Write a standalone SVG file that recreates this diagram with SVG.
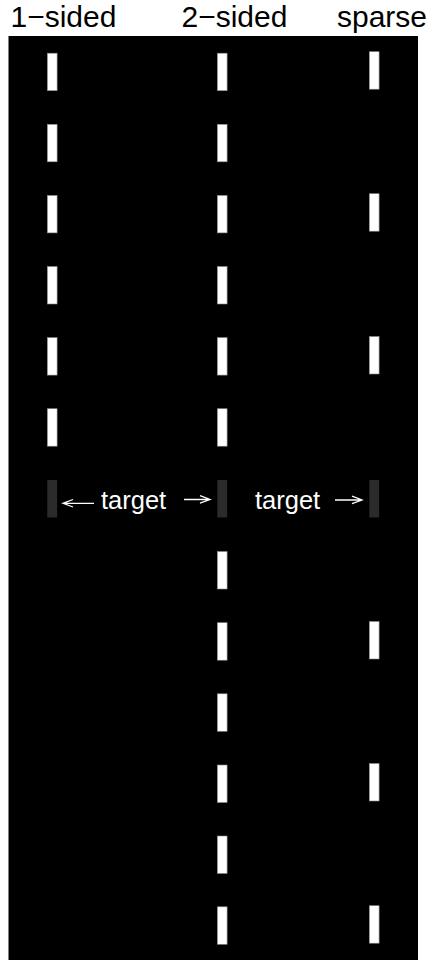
<svg xmlns="http://www.w3.org/2000/svg" width="429" height="962" viewBox="0 0 429 962">
<style>
.hdr{font-family:"Liberation Sans",Arial,sans-serif;font-size:30px;fill:#000}
.lbl{font-family:"Liberation Sans",Arial,sans-serif;font-size:25.5px;fill:#fff}
.bar{fill:#fff;stroke:#888;stroke-width:0.6}
.tgt{fill:#2b2b2b}
.arr{stroke:#fff;stroke-width:1.3;fill:none}
</style>
<rect width="429" height="962" fill="#fff"/>
<rect id="field" x="8.5" y="36" width="409.5" height="924" fill="#000"/>
<g id="headers">
<text class="hdr" x="10.5" y="27">1−sided</text>
<text class="hdr" x="181.5" y="27">2−sided</text>
<text class="hdr" x="337" y="27">sparse</text>
</g>
<g id="col1">
<rect class="bar" x="47.3" y="53.2" width="9.8" height="37.5"/>
<rect class="bar" x="47.3" y="124.3" width="9.8" height="37.5"/>
<rect class="bar" x="47.3" y="195.4" width="9.8" height="37.5"/>
<rect class="bar" x="47.3" y="266.5" width="9.8" height="37.5"/>
<rect class="bar" x="47.3" y="337.6" width="9.8" height="37.5"/>
<rect class="bar" x="47.3" y="408.7" width="9.8" height="37.5"/>
<rect id="target1" class="tgt" x="47.3" y="480" width="9.8" height="37.5"/>
</g>
<g id="col2">
<rect class="bar" x="217.3" y="53.2" width="9.8" height="37.5"/>
<rect class="bar" x="217.3" y="124.3" width="9.8" height="37.5"/>
<rect class="bar" x="217.3" y="195.4" width="9.8" height="37.5"/>
<rect class="bar" x="217.3" y="266.5" width="9.8" height="37.5"/>
<rect class="bar" x="217.3" y="337.6" width="9.8" height="37.5"/>
<rect class="bar" x="217.3" y="408.7" width="9.8" height="37.5"/>
<rect id="target2" class="tgt" x="217.3" y="480" width="9.8" height="37.5"/>
<rect class="bar" x="217.3" y="551.5" width="9.8" height="37.5"/>
<rect class="bar" x="217.3" y="622.7" width="9.8" height="37.5"/>
<rect class="bar" x="217.3" y="693.8" width="9.8" height="37.5"/>
<rect class="bar" x="217.3" y="765" width="9.8" height="37.5"/>
<rect class="bar" x="217.3" y="836" width="9.8" height="37.5"/>
<rect class="bar" x="217.3" y="906.8" width="9.8" height="37.5"/>
</g>
<g id="col3">
<rect class="bar" x="369.3" y="51.7" width="9.8" height="37.5"/>
<rect class="bar" x="369.3" y="193.7" width="9.8" height="37.5"/>
<rect class="bar" x="369.3" y="336.5" width="9.8" height="37.5"/>
<rect id="target3" class="tgt" x="369.3" y="480" width="9.8" height="37.5"/>
<rect class="bar" x="369.3" y="621.5" width="9.8" height="37.5"/>
<rect class="bar" x="369.3" y="763.5" width="9.8" height="37.5"/>
<rect class="bar" x="369.3" y="905.7" width="9.8" height="37.5"/>
</g>
<g id="labels">
<text class="lbl" x="101" y="509">target</text>
<text class="lbl" x="255" y="509">target</text>
</g>
<g id="connectors">
<path class="arr" d="M94 503.3 H63 M73 499.5 L63 503.3 L73 507"/>
<path class="arr" d="M184 499.5 H210 M200 495.7 L210 499.5 L200 503.2"/>
<path class="arr" d="M335 500 H362 M352 496.2 L362 500 L352 503.7"/>
</g>
</svg>
